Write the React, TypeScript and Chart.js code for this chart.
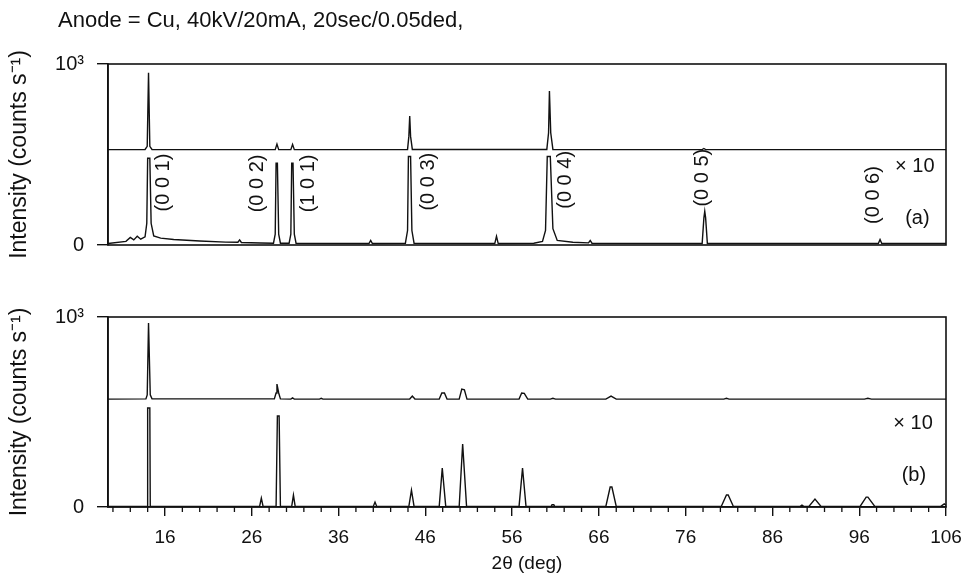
import { useEffect, useRef } from 'react';
import { Chart, registerables } from 'chart.js';

Chart.register(...registerables);

const FONT = "'Liberation Sans', Arial, Helvetica, sans-serif";
const INK = '#111111';

// ---- axes ----
const X_MIN = 9.43;
const X_MAX = 106;
const xMajorTicks = [16, 26, 36, 46, 56, 66, 76, 86, 96, 106];
const xMinorTicks = [10, 12, 14, 18, 20, 22, 24, 28, 30, 32, 34, 38, 40, 42, 44, 48, 50, 52, 54, 58, 60, 62, 64, 68, 70, 72, 74, 78, 80, 82, 84, 88, 90, 92, 94, 98, 100, 102, 104];
const yTickValues = [0, 1000];
const yTickLabels = ['0', '10³'];

const titleText = 'Anode = Cu, 40kV/20mA, 20sec/0.05ded,';
const yTitle = 'Intensity (counts s⁻¹)';
const xTitle = '2θ (deg)';

// ---- panel (a): [2θ, intensity] ----
const aUpper: number[][] = [
  [9.43, 527], [13.7, 528], [13.95, 545], [14.1, 952], [14.25, 545], [14.5, 528],
  [28.7, 527], [28.9, 558], [29.1, 527],
  [30.5, 527], [30.7, 556], [30.9, 527],
  [43.95, 528], [44.1, 600], [44.2, 713], [44.3, 600], [44.5, 528],
  [60.0, 528], [60.2, 620], [60.3, 851], [60.45, 620], [60.7, 528],
  [77.9, 527], [78.1, 533], [78.3, 527],
  [106, 527],
];
const aLower: number[][] = [
  [9.43, 8], [11.5, 20], [12.0, 42], [12.4, 28], [12.8, 48], [13.2, 32], [13.7, 45],
  [13.9, 120], [14.0, 479], [14.25, 479], [14.4, 120], [14.7, 50], [15.5, 38],
  [17, 30], [20, 22], [23, 16], [24.4, 15], [24.6, 28], [24.8, 14], [27, 11],
  [28.5, 10], [28.7, 60], [28.8, 452], [28.95, 452], [29.1, 60], [29.3, 10],
  [30.3, 10], [30.5, 60], [30.6, 452], [30.75, 452], [30.9, 60], [31.1, 10],
  [39.5, 8], [39.7, 25], [39.9, 8],
  [43.7, 10], [43.95, 80], [44.05, 489], [44.3, 489], [44.45, 80], [44.7, 10],
  [54.0, 8], [54.2, 48], [54.4, 8],
  [58.5, 10], [59.5, 20], [59.85, 80], [60.05, 489], [60.4, 489], [60.7, 90], [61.2, 25],
  [63, 15], [64.8, 12], [65.0, 25], [65.2, 10],
  [77.9, 8], [78.1, 150], [78.2, 186], [78.3, 150], [78.5, 8],
  [98.2, 8], [98.4, 30], [98.6, 8], [106, 8],
];

// ---- panel (b) ----
const bUpper: number[][] = [
  [9.43, 568], [13.8, 569], [13.95, 590], [14.1, 968], [14.3, 590], [14.5, 569],
  [28.6, 569], [28.8, 600], [28.9, 647], [29.1, 600], [29.3, 569],
  [30.5, 568], [30.7, 574], [30.9, 568],
  [33.8, 568], [34.0, 572], [34.2, 568],
  [44.2, 568], [44.5, 584], [44.8, 568],
  [47.6, 568], [47.9, 600], [48.2, 600], [48.5, 568],
  [49.9, 568], [50.2, 621], [50.5, 617], [50.8, 568],
  [56.8, 568], [57.1, 600], [57.4, 598], [57.8, 568],
  [60.4, 568], [60.7, 572], [61.0, 568],
  [66.8, 568], [67.4, 584], [68.0, 568],
  [80.4, 568], [80.7, 572], [81.0, 568],
  [96.6, 568], [97.0, 572], [97.4, 568],
  [106, 568],
];
const bLower: number[][] = [
  [9.43, 3], [13.95, 3], [14.0, 521], [14.25, 521], [14.3, 3],
  [26.9, 3], [27.1, 47], [27.3, 3],
  [28.8, 3], [28.95, 479], [29.15, 479], [29.3, 3],
  [30.6, 3], [30.8, 63], [31.0, 3],
  [40.0, 3], [40.2, 26], [40.4, 3],
  [44.1, 3], [44.4, 89], [44.7, 3],
  [47.6, 3], [47.95, 205], [48.35, 3],
  [49.9, 3], [50.3, 332], [50.75, 3],
  [56.8, 3], [57.2, 205], [57.6, 3],
  [60.5, 3], [60.6, 12], [60.8, 12], [60.9, 3],
  [66.8, 3], [67.3, 105], [67.5, 105], [68.0, 3],
  [80.1, 3], [80.7, 63], [80.9, 63], [81.5, 3],
  [89.2, 3], [89.4, 10], [89.6, 3],
  [90.2, 3], [90.9, 42], [91.6, 3],
  [96.1, 3], [96.8, 52], [97.0, 52], [97.8, 3],
  [105.4, 3], [105.8, 16], [106, 10],
];

// ---- annotations (label text, 2θ position, intensity position) ----
const hklLabels = ['(0 0 1)', '(0 0 2)', '(1 0 1)', '(0 0 3)', '(0 0 4)', '(0 0 5)', '(0 0 6)'];
const hklX = [15.77, 26.6, 32.5, 46.4, 62.1, 77.9, 97.6];
const hklY = [345, 340, 340, 350, 360, 372, 276];

const decorPlugin = {
  id: 'decor',
  afterDraw(chart: any, _args: any, opts: any) {
    const { ctx, chartArea: a, scales } = chart;
    const xs = scales.x;
    const ys = scales.y;
    ctx.save();
    ctx.strokeStyle = INK;
    ctx.lineWidth = 1.6;
    ctx.strokeRect(a.left, a.top, a.right - a.left, a.bottom - a.top);
    if (opts.minorTicks) {
      ctx.lineWidth = 1.3;
      ctx.beginPath();
      for (const v of opts.minorTicks) {
        const px = xs.getPixelForValue(v);
        ctx.moveTo(px, a.bottom);
        ctx.lineTo(px, a.bottom + 5);
      }
      ctx.stroke();
    }
    ctx.fillStyle = INK;
    for (const t of opts.texts || []) {
      ctx.font = `${t.size || 20}px ${FONT}`;
      const px = t.px !== undefined ? t.px : xs.getPixelForValue(t.x);
      const py = t.py !== undefined ? t.py : ys.getPixelForValue(t.y);
      ctx.save();
      ctx.translate(px, py);
      if (t.rot) ctx.rotate(-Math.PI / 2);
      ctx.textAlign = t.align || 'center';
      ctx.textBaseline = 'middle';
      ctx.fillText(t.text, 0, 0);
      ctx.restore();
    }
    ctx.restore();
  },
};

function lineDs(points: number[][]) {
  return {
    data: points.map(([x, y]) => ({ x, y })),
    borderColor: INK,
    borderWidth: 1.4,
    pointRadius: 0,
    tension: 0,
    fill: false,
  };
}

function yScale() {
  return {
    type: 'linear',
    min: 0,
    max: 1000,
    afterBuildTicks: (s: any) => {
      s.ticks = yTickValues.map((v) => ({ value: v }));
    },
    afterFit: (s: any) => {
      s.width = 108;
    },
    ticks: {
      padding: 13,
      color: INK,
      font: { family: FONT, size: 20 },
      callback: (v: any) => yTickLabels[yTickValues.indexOf(Number(v))],
    },
    grid: { drawOnChartArea: false, drawTicks: true, tickLength: 11, color: INK, lineWidth: 1.4 },
    border: { display: true, color: INK, width: 1.6 },
    title: {
      display: true,
      text: yTitle,
      color: INK,
      font: { family: FONT, size: 23 },
      padding: { top: 6, bottom: 0 },
    },
  };
}

function makeChart(canvas: HTMLCanvasElement, panel: 'a' | 'b') {
  const isA = panel === 'a';
  const texts: any[] = [];
  if (isA) {
    texts.push({ text: titleText, px: 58, py: 21, align: 'left', size: 22 });
    hklLabels.forEach((l, i) => texts.push({ text: l, x: hklX[i], y: hklY[i], rot: true }));
    texts.push({ text: '× 10', x: 102.4, y: 436 });
    texts.push({ text: '(a)', x: 102.7, y: 149 });
  } else {
    texts.push({ text: '× 10', x: 102.2, y: 442 });
    texts.push({ text: '(b)', x: 102.3, y: 168 });
  }
  const cfg: any = {
    type: 'line',
    data: {
      datasets: isA ? [lineDs(aUpper), lineDs(aLower)] : [lineDs(bUpper), lineDs(bLower)],
    },
    options: {
      responsive: false,
      animation: false,
      layout: {
        padding: isA ? { left: 0, right: 20, top: 64, bottom: 18 } : { left: 0, right: 20, top: 37, bottom: 0 },
      },
      plugins: {
        legend: { display: false },
        tooltip: { enabled: false },
        decor: { texts, minorTicks: isA ? null : xMinorTicks },
      },
      scales: {
        x: isA
          ? { type: 'linear', min: X_MIN, max: X_MAX, display: false }
          : {
              type: 'linear',
              min: X_MIN,
              max: X_MAX,
              afterBuildTicks: (s: any) => {
                s.ticks = xMajorTicks.map((v) => ({ value: v }));
              },
              afterFit: (s: any) => {
                s.height = 68;
                s.paddingLeft = 0;
                s.paddingRight = 0;
              },
              ticks: {
                autoSkip: false,
                maxRotation: 0,
                padding: 10,
                color: INK,
                font: { family: FONT, size: 19 },
                callback: (v: any) => String(v),
              },
              grid: { drawOnChartArea: false, drawTicks: true, tickLength: 9, color: INK, lineWidth: 1.4 },
              border: { display: true, color: INK, width: 1.6 },
              title: {
                display: true,
                text: xTitle,
                color: INK,
                font: { family: FONT, size: 19 },
                padding: { top: 0, bottom: 0 },
              },
            },
        y: yScale(),
      },
    },
    plugins: [decorPlugin],
  };
  return new Chart(canvas, cfg);
}

export default function App() {
  const refA = useRef<HTMLCanvasElement>(null);
  const refB = useRef<HTMLCanvasElement>(null);
  useEffect(() => {
    const ca = makeChart(refA.current!, 'a');
    const cb = makeChart(refB.current!, 'b');
    return () => {
      ca.destroy();
      cb.destroy();
    };
  }, []);
  return (
    <div style={{ position: 'absolute', left: 0, top: 0, width: 966, height: 575, background: '#fff' }}>
      <canvas ref={refA} width={966} height={270} style={{ position: 'absolute', left: 0, top: 0, width: 966, height: 270 }} />
      <canvas ref={refB} width={966} height={295} style={{ position: 'absolute', left: 0, top: 280, width: 966, height: 295 }} />
    </div>
  );
}
